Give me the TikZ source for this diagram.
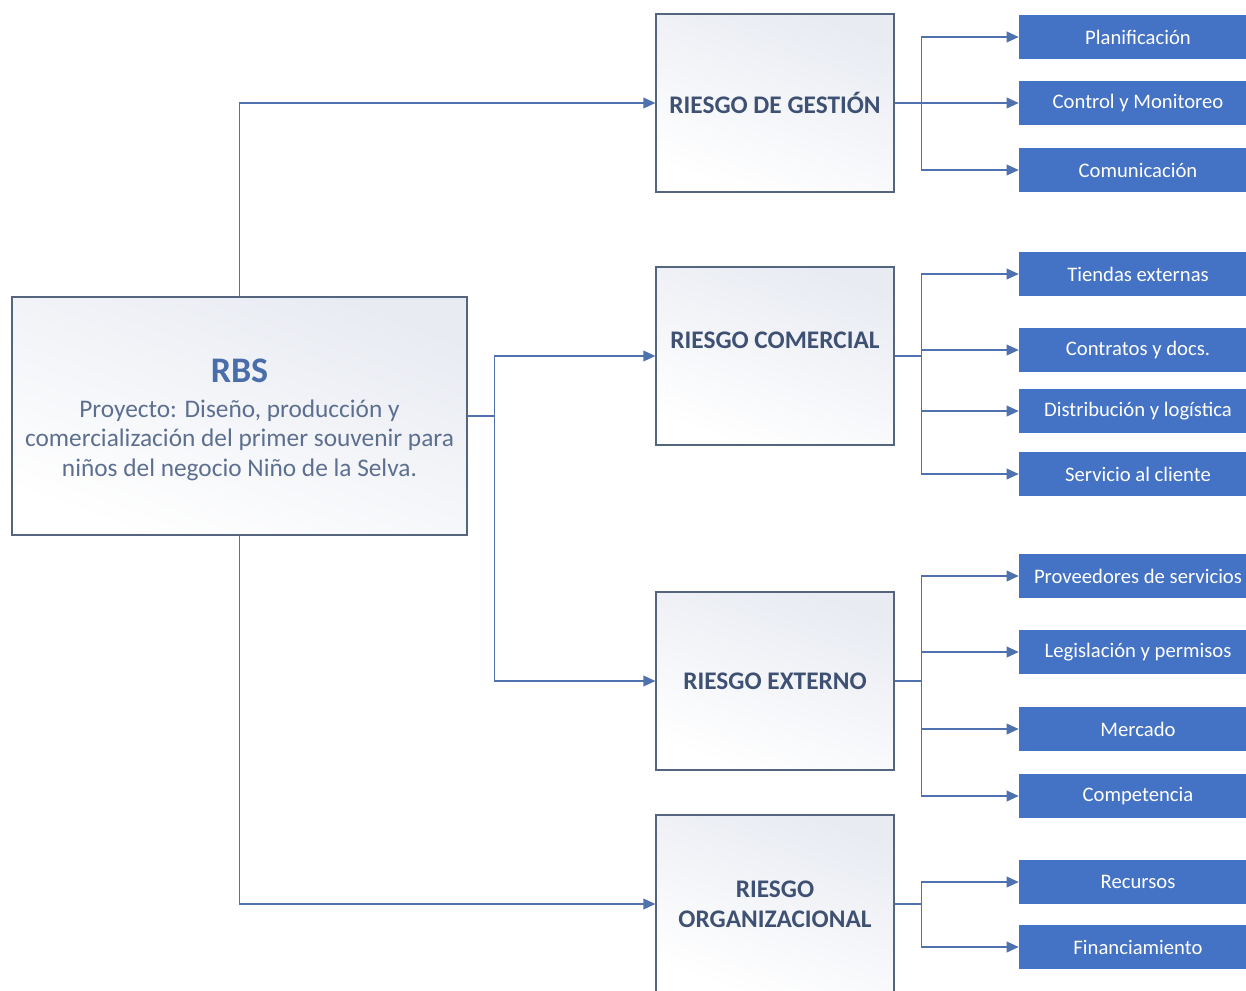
\documentclass[tikz,border=0pt]{standalone}
\usepackage{fontspec}
\setmainfont{Carlito}
\usetikzlibrary{arrows.meta}
\definecolor{boxblue}{HTML}{4472C4}
\definecolor{linecol}{HTML}{4F71AD}
\definecolor{edgecol}{HTML}{56657E}
\definecolor{riskdark}{HTML}{3F5173}
\definecolor{rbstitle}{HTML}{4A6EAA}
\definecolor{rbsbody}{HTML}{5D6F90}
\definecolor{shadetop}{HTML}{E8EBF2}
\begin{document}
\begin{tikzpicture}[x=0.75pt,y=-0.75pt,
  whitebox/.style={draw=edgecol, line width=0.9pt, top color=shadetop, bottom color=white,
     shading angle=-20,
     minimum width=178.5pt, minimum height=133.5pt, align=center, inner sep=0pt},
  riskbox/.style={whitebox, text=riskdark, font=\fontsize{19}{22.5}\selectfont\bfseries},
  bluebox/.style={fill=boxblue, draw=none, minimum width=178.5pt, minimum height=33pt,
     text=white, font=\fontsize{15.5}{18}\selectfont, inner sep=0pt},
  trunk/.style={draw=linecol, line width=1.6pt},
  conn/.style={draw=linecol, line width=1.1pt, -{Triangle[length=9pt,width=8pt]}}]
\useasboundingbox (0,0) rectangle (1246,990);
\clip (0,0) rectangle (1246,990);
% root
\node[whitebox, minimum width=341.25pt, minimum height=178.5pt, text=rbsbody,
  font=\fontsize{19}{22.3}\selectfont] (rbs) at (239.5,416)
  {\raisebox{-4.5pt}[\height][\depth]{\begin{tabular}{@{}c@{}}
   {\fontsize{27}{30}\selectfont\bfseries\color{rbstitle}RBS}\\[4pt]
   Proyecto: Diseño, producción y\\
   comercialización del primer souvenir para\\
   niños del negocio Niño de la Selva.\end{tabular}}};
% risk boxes
\node[riskbox] (g) at (775,103) {RIESGO DE GESTIÓN};
\node[riskbox] (c) at (775,356) {\raisebox{12pt}[\height][\depth]{RIESGO COMERCIAL}};
\node[riskbox] (e) at (775,681) {RIESGO EXTERNO};
\node[riskbox] (o) at (775,904) {RIESGO\\ORGANIZACIONAL};
% leaf boxes
\node[bluebox] (g1) at (1138,37) {Planificación};
\node[bluebox] (g2) at (1138,103) {Control y Monitoreo};
\node[bluebox] (g3) at (1138,170) {Comunicación};
\node[bluebox] (c1) at (1138,274) {Tiendas externas};
\node[bluebox] (c2) at (1138,350) {Contratos y docs.};
\node[bluebox] (c3) at (1138,411) {Distribución y logística};
\node[bluebox] (c4) at (1138,474) {Servicio al cliente};
\node[bluebox] (e1) at (1138,576) {Proveedores de servicios};
\node[bluebox] (e2) at (1138,652) {Legislación y permisos};
\node[bluebox] (e3) at (1138,729) {Mercado};
\node[bluebox] (e4) at (1138,796) {Competencia};
\node[bluebox] (o1) at (1138,882) {Recursos};
\node[bluebox] (o2) at (1138,947) {Financiamiento};
% root connectors
\draw[conn] (rbs.north) |- (g.west);
\draw[conn] (rbs.south) |- (o.west);
\path (rbs.east) ++(27,0) coordinate (jr);
\draw[trunk] (rbs.east) -- (jr);
\draw[conn] (jr) |- (c.west);
\draw[conn] (jr) |- (e.west);
% risk connectors
\foreach \p/\kids in {g/{g1,g2,g3}, c/{c1,c2,c3,c4}, e/{e1,e2,e3,e4}, o/{o1,o2}}{
  \path (\p.east) ++(27,0) coordinate (j\p);
  \draw[trunk] (\p.east) -- (j\p);
  \foreach \k in \kids { \draw[conn] (j\p) |- (\k.west); }
}
\end{tikzpicture}
\end{document}
